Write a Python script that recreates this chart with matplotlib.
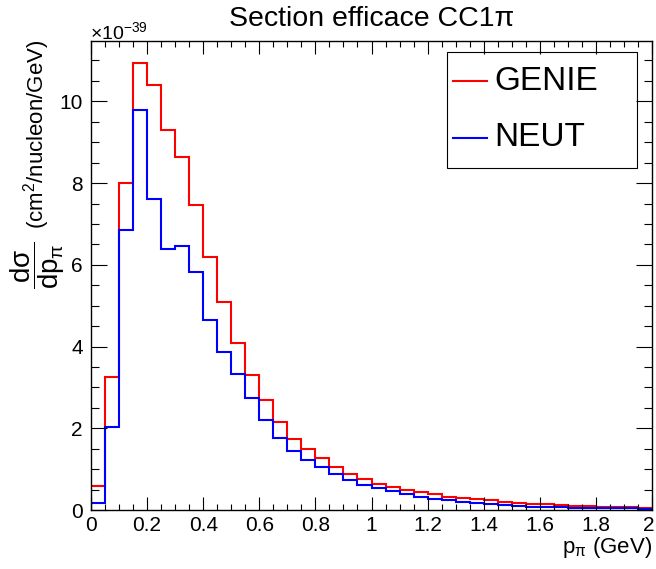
import numpy as np
import matplotlib
matplotlib.use("Agg")
import matplotlib.pyplot as plt
import matplotlib.transforms as mtransforms
from matplotlib.lines import Line2D
from matplotlib.patches import Rectangle
from matplotlib.ticker import MultipleLocator, FixedLocator, FixedFormatter

plt.rcParams['font.family'] = ['Liberation Sans', 'DejaVu Sans']
plt.rcParams['mathtext.fontset'] = 'custom'
plt.rcParams['mathtext.rm'] = 'Liberation Sans'
plt.rcParams['mathtext.it'] = 'Liberation Sans'
plt.rcParams['mathtext.bf'] = 'Liberation Sans:bold'

# ---- data (units of 1e-39 cm^2/nucleon/GeV) ----
bin_width = 0.05
n_bins = 40
genie = [0.59, 3.26, 8.00, 10.93, 10.39, 9.30, 8.65, 7.46, 6.20, 5.09,
         4.09, 3.31, 2.68, 2.16, 1.74, 1.49, 1.27, 1.06, 0.89, 0.75,
         0.64, 0.56, 0.50, 0.43, 0.38, 0.33, 0.30, 0.27, 0.24, 0.20,
         0.18, 0.15, 0.14, 0.12, 0.11, 0.10, 0.08, 0.07, 0.07, 0.06]
neut = [0.16, 2.02, 6.85, 9.78, 7.60, 6.39, 6.45, 5.83, 4.64, 3.87,
        3.32, 2.73, 2.20, 1.77, 1.45, 1.22, 1.04, 0.87, 0.73, 0.61,
        0.53, 0.47, 0.39, 0.33, 0.28, 0.24, 0.20, 0.16, 0.14, 0.12,
        0.10, 0.08, 0.07, 0.065, 0.06, 0.055, 0.05, 0.045, 0.04, 0.035]
series_names = ['GENIE', 'NEUT']
x_ticks = [0, 0.2, 0.4, 0.6, 0.8, 1.0, 1.2, 1.4, 1.6, 1.8, 2.0]
x_tick_labels = ['0', '0.2', '0.4', '0.6', '0.8', '1', '1.2', '1.4', '1.6', '1.8', '2']
y_ticks = [0, 2, 4, 6, 8, 10]
y_tick_labels = ['0', '2', '4', '6', '8', '10']

edges = np.arange(n_bins + 1) * bin_width

W, H = 656, 569
fig = plt.figure(figsize=(W / 100, H / 100), dpi=100)
ax = fig.add_axes([91 / W, 1 - 510 / H, (652 - 91) / W, (510 - 41) / H])

ax.stairs(genie, edges, color='#ff0000', linewidth=1.5, baseline=0)
ax.stairs(neut, edges, color='#0000ff', linewidth=1.5, baseline=0)

ax.set_xlim(0, 2)
ax.set_ylim(0, 1.05 * max(genie))

ax.xaxis.set_major_locator(FixedLocator(x_ticks))
ax.xaxis.set_major_formatter(FixedFormatter(x_tick_labels))
ax.xaxis.set_minor_locator(MultipleLocator(0.05))
ax.yaxis.set_major_locator(FixedLocator(y_ticks))
ax.yaxis.set_major_formatter(FixedFormatter(y_tick_labels))
ax.yaxis.set_minor_locator(MultipleLocator(0.5))

ax.tick_params(axis='both', which='both', direction='in', top=True, right=True,
               width=0.8, color='black', labelsize=15)
ax.tick_params(axis='x', which='major', length=9.4, pad=4)
ax.tick_params(axis='x', which='minor', length=4.5)
ax.tick_params(axis='y', which='major', length=11.5, pad=6)
ax.tick_params(axis='y', which='minor', length=6)
for s in ax.spines.values():
    s.set_linewidth(1.0)

# keep the last x tick label inside the canvas
last = ax.xaxis.get_majorticklabels()[-1]
last.set_transform(last.get_transform() +
                   mtransforms.ScaledTranslation(-3 / 100, 0, fig.dpi_scale_trans))

# title
fig.text(372 / W, 1 - 26 / H, 'Section efficace CC1π', ha='center', va='baseline', fontsize=20.5)
# exponent
fig.text(90 / W, 1 - 39 / H, r'×10$^{-39}$', ha='left', va='baseline', fontsize=14)
# y label (two parts: units and the derivative fraction)
fig.text(37 / W, 1 - 40 / H, r'(cm$^{2}$/nucleon/GeV)',
         rotation=90, ha='center', va='top', fontsize=16)
fig.text(38 / W, 1 - 242 / H, r'$\dfrac{d\sigma}{dp_{\pi}}$',
         rotation=90, ha='center', va='top', fontsize=20)
# x label
fig.text(652 / W, 1 - 553 / H, r'p$_{\pi}$ (GeV)', ha='right', va='baseline', fontsize=16)

# legend
fig.patches.append(Rectangle((447 / W, 1 - 168 / H), (637 - 447) / W, (168 - 52) / H,
                             transform=fig.transFigure, fill=False, edgecolor='black',
                             linewidth=0.8))
for name, col, yc in [(series_names[0], '#ff0000', 81), (series_names[1], '#0000ff', 138)]:
    fig.lines.append(Line2D([453 / W, 487 / W], [1 - yc / H, 1 - yc / H],
                            transform=fig.transFigure, color=col, linewidth=1.5))
    fig.text(494 / W, 1 - yc / H, name, ha='left', va='center', fontsize=24)

fig.savefig('out.png', dpi=100)
